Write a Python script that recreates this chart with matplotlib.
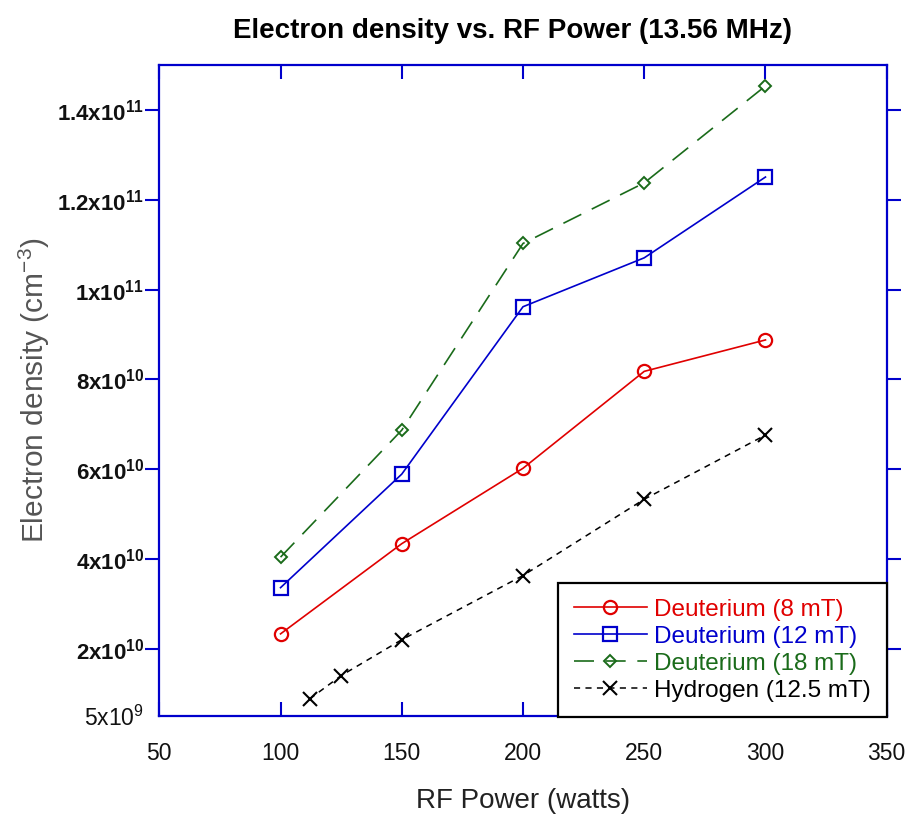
import matplotlib
matplotlib.use("Agg")
import matplotlib.pyplot as plt

plt.rcParams['font.family'] = ['Liberation Sans', 'DejaVu Sans']
plt.rcParams['mathtext.fontset'] = 'custom'
plt.rcParams['mathtext.rm'] = 'Liberation Sans'
plt.rcParams['mathtext.it'] = 'Liberation Sans:italic'
plt.rcParams['mathtext.bf'] = 'Liberation Sans:bold'

# ---- data ----
power_d = [100, 150, 200, 250, 300]
d_8mT = [2.33e10, 4.34e10, 6.02e10, 8.18e10, 8.88e10]
d_12mT = [3.36e10, 5.89e10, 9.62e10, 1.071e11, 1.251e11]
d_18mT = [4.04e10, 6.87e10, 1.103e11, 1.238e11, 1.454e11]
power_h = [112, 125, 150, 200, 250, 300]
h_12_5mT = [8.8e9, 1.4e10, 2.2e10, 3.63e10, 5.33e10, 6.76e10]

x_ticks = [50, 100, 150, 200, 250, 300, 350]
y_ticks = [5e9, 2e10, 4e10, 6e10, 8e10, 1e11, 1.2e11, 1.4e11]
y_ticklabels = [r'$\mathrm{5x10^{9}}$', r'$\mathbf{2x10^{10}}$', r'$\mathbf{4x10^{10}}$',
                r'$\mathbf{6x10^{10}}$', r'$\mathbf{8x10^{10}}$', r'$\mathbf{1x10^{11}}$',
                r'$\mathbf{1.2x10^{11}}$', r'$\mathbf{1.4x10^{11}}$']
labels = ['Deuterium (8 mT)', 'Deuterium (12 mT)', 'Deuterium (18 mT)', 'Hydrogen (12.5 mT)']

RED = '#e00000'
BLUE = '#0000cc'
GREEN = '#1a6b1a'
SPINE = '#0000cc'

fig = plt.figure(figsize=(9.09, 8.15), dpi=100)
ax = fig.add_axes([159.3 / 909, 1 - 716 / 815, (886.7 - 159.3) / 909, (716 - 65.3) / 815])

ax.plot(power_d, d_8mT, color=RED, lw=1.2, marker='o', ms=9.5, mfc='none', mec=RED, mew=1.6, label=labels[0])
ax.plot(power_d, d_12mT, color=BLUE, lw=1.2, marker='s', ms=10, mfc='none', mec=BLUE, mew=1.6, label=labels[1])
ax.plot(power_d, d_18mT, color=GREEN, lw=1.2, ls=(0, (12, 7)), marker='D', ms=6.5, mfc='none', mec=GREEN, mew=1.4, label=labels[2])
ax.plot(power_h, h_12_5mT, color='black', lw=1.1, ls=(0, (4, 3.5)), marker='x', ms=10.5, mec='black', mew=1.5, label=labels[3])

ax.set_xlim(50, 350)
ax.set_ylim(5e9, 1.5e11)
ax.set_xticks(x_ticks)
ax.set_xticklabels([str(v) for v in x_ticks], fontsize=16.5, color='#111111')
ax.set_yticks(y_ticks)
ax.set_yticklabels(y_ticklabels, fontsize=16, color='#111111')

for s in ax.spines.values():
    s.set_color(SPINE)
    s.set_linewidth(1.6)

ax.tick_params(axis='x', direction='in', length=10, width=1.5, color=SPINE, top=True, pad=19)
ax.tick_params(axis='y', direction='out', length=10, width=1.5, color=SPINE, right=True, pad=1)
t0 = ax.yaxis.get_major_ticks()[0]
t0.tick1line.set_visible(False)
t0.tick2line.set_visible(False)
t0.label1.set_fontsize(16.5)

ax.set_xlabel('RF Power (watts)', fontsize=20, color='#222222', labelpad=16)
ax.set_ylabel(r'Electron density (cm$^{\mathrm{-3}}$)', fontsize=21.5, color='#555555', labelpad=3.5)
ax.set_title('Electron density vs. RF Power (13.56 MHz)', fontsize=20, fontweight='bold', pad=20, x=0.485)

leg = ax.legend(loc='lower right', bbox_to_anchor=(1.0, -0.002), borderaxespad=0, fontsize=17.5,
                frameon=True, fancybox=False, edgecolor='black', facecolor='white', framealpha=1,
                numpoints=1, handlelength=3.0, handletextpad=0.3, labelspacing=0.2,
                borderpad=0.65, labelcolor='linecolor')
leg.get_frame().set_linewidth(1.6)
leg.set_zorder(5)

fig.savefig('out.png', dpi=100)
